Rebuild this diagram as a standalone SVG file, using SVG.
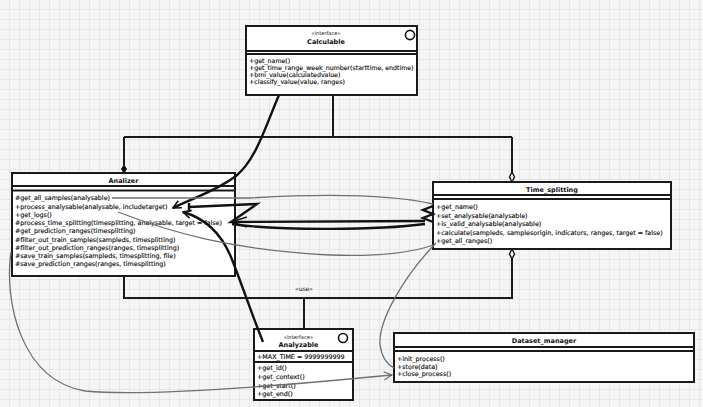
<svg xmlns="http://www.w3.org/2000/svg" width="703" height="407" viewBox="0 0 703 407">
<defs>
<pattern id="grid" width="10" height="10" patternUnits="userSpaceOnUse">
<rect width="10" height="10" fill="#f5f5f5"/>
<path d="M10 0 V10 M0 10 H10" stroke="#dcdcdc" stroke-width="1" fill="none"/>
</pattern>
<marker id="openArrow" markerWidth="10" markerHeight="10" refX="9" refY="5" orient="auto" markerUnits="userSpaceOnUse">
<path d="M1 1 L9 5 L1 9" fill="none" stroke="#111" stroke-width="1.6"/>
</marker>
<marker id="grayArrow" markerWidth="10" markerHeight="10" refX="9" refY="5" orient="auto" markerUnits="userSpaceOnUse">
<path d="M1 1 L9 5 L1 9" fill="none" stroke="#666" stroke-width="1.1"/>
</marker>
</defs>
<style>
.box{fill:#fff;stroke:#1a1a1a;stroke-width:2}
.sep{stroke:#1a1a1a;stroke-width:1.8}
.t{font-family:"DejaVu Sans","Liberation Sans",sans-serif;font-size:6.35px;fill:#111;stroke:#111;stroke-width:0.15}
.title{font-family:"DejaVu Sans","Liberation Sans",sans-serif;font-size:6.5px;font-weight:bold;fill:#111;text-anchor:middle}
.st{font-family:"DejaVu Sans","Liberation Sans",sans-serif;font-size:5.2px;fill:#111;text-anchor:middle}
.ln{fill:none;stroke:#1a1a1a;stroke-width:2}
.thick{fill:none;stroke:#111;stroke-width:2.4}
.gray{fill:none;stroke:#707070;stroke-width:1.3}
</style>
<rect width="703" height="407" fill="url(#grid)"/>

<g id="Calculable">
<rect class="box" x="246" y="26" width="171" height="69"/>
<line class="sep" x1="246" y1="51" x2="417" y2="51"/>
<line class="sep" x1="246" y1="54" x2="417" y2="54"/>
<circle cx="410" cy="35" r="4.6" fill="#fff" stroke="#111" stroke-width="1.6"/>
<text class="st" x="326" y="35">«interface»</text>
<text class="title" x="326" y="43.5">Calculable</text>
<text class="t" x="249" y="63.2" style="font-size:6.25px">+get_name()</text>
<text class="t" x="249" y="70" style="font-size:6.25px">+get_time_range_week_number(starttime, endtime)</text>
<text class="t" x="249" y="76.8" style="font-size:6.25px">+bmi_value(calculatedvalue)</text>
<text class="t" x="249" y="83.6" style="font-size:6.25px">+classify_value(value, ranges)</text>
</g>

<g id="Analizer">
<rect class="box" x="12" y="173" width="223" height="103"/>
<line class="sep" x1="12" y1="186" x2="235" y2="186"/>
<line class="sep" x1="12" y1="190.5" x2="235" y2="190.5"/>
<text class="title" x="123.5" y="182.5">Analizer</text>
<text class="t" x="15" y="200.4">#get_all_samples(analysable)</text>
<text class="t" x="15" y="208.65">+process_analysable(analysable, includetarget)</text>
<text class="t" x="15" y="216.9">+get_logs()</text>
<text class="t" x="15" y="225.15">#process_time_splitting(timesplitting, analysable, target = false)</text>
<text class="t" x="15" y="233.4">#get_prediction_ranges(timesplitting)</text>
<text class="t" x="15" y="241.65">#filter_out_train_samples(sampleds, timesplitting)</text>
<text class="t" x="15" y="249.9">#filter_out_prediction_ranges(ranges, timesplitting)</text>
<text class="t" x="15" y="258.15">#save_train_samples(sampleds, timesplitting, file)</text>
<text class="t" x="15" y="266.4">#save_prediction_ranges(ranges, timesplitting)</text>
</g>

<g id="Time_splitting">
<rect class="box" x="433" y="182" width="238" height="67"/>
<line class="sep" x1="433" y1="195" x2="671" y2="195"/>
<line class="sep" x1="433" y1="199" x2="671" y2="199"/>
<text class="title" x="552" y="192">Time_splitting</text>
<text class="t" x="436" y="209.4">+get_name()</text>
<text class="t" x="436" y="217.9">+set_analysable(analysable)</text>
<text class="t" x="436" y="226.4">+is_valid_analysable(analysable)</text>
<text class="t" x="436" y="234.9">+calculate(sampleds, samplesorigin, indicators, ranges, target = false)</text>
<text class="t" x="436" y="243.4">+get_all_ranges()</text>
</g>

<g id="Analyzable">
<rect class="box" x="254" y="329" width="99" height="71"/>
<line class="sep" x1="254" y1="351" x2="353" y2="351"/>
<line class="sep" x1="254" y1="362" x2="353" y2="362"/>
<circle cx="343" cy="338" r="4.5" fill="#fff" stroke="#111" stroke-width="1.6"/>
<text class="st" x="298.5" y="338.5">«interface»</text>
<text class="title" x="298.5" y="347">Analyzable</text>
<text class="t" x="257" y="359.4">+MAX_TIME = 9999999999</text>
<text class="t" x="257" y="370.4">+get_id()</text>
<text class="t" x="257" y="379.1">+get_context()</text>
<text class="t" x="257" y="387.8">+get_start()</text>
<text class="t" x="257" y="396.4">+get_end()</text>
</g>

<g id="Dataset_manager">
<rect class="box" x="394" y="333" width="300" height="49"/>
<line class="sep" x1="394" y1="347" x2="694" y2="347"/>
<line class="sep" x1="394" y1="351" x2="694" y2="351"/>
<text class="title" x="544" y="343">Dataset_manager</text>
<text class="t" x="397" y="361.4">+init_process()</text>
<text class="t" x="397" y="368.9">+store(data)</text>
<text class="t" x="397" y="376.4">+close_process()</text>
</g>

<g id="connectors">
<path class="ln" d="M333 95 V137 M124 137 H512 M124 137 V165 M512 137 V172"/>
<path d="M124 165 L121.5 169 L124 173 L126.5 169 Z" fill="#111" stroke="#111" stroke-width="1"/>
<path d="M512 172 L509.5 177 L512 182 L514.5 177 Z" fill="#fff" stroke="#111" stroke-width="1.4"/>
<path class="ln" d="M124 276 V298 H512 V259 M304 298 V329"/>
<path d="M512 249 L509.5 254 L512 259 L514.5 254 Z" fill="#fff" stroke="#111" stroke-width="1.4"/>
<text class="st" x="304" y="291" style="font-size:6px">«use»</text>
<path class="thick" d="M279 95 C266 125 256 160 236 176 C215 192 192 198 173 208" marker-end="url(#openArrow)"/>
<path class="thick" d="M263 342 C251 312 241 282 231 257 C221 233 204 218 183 212" marker-end="url(#openArrow)"/>
<path class="thick" d="M425 221 L231 222 L257 204 L189 207 M189 203 V212"/>
<path class="thick" d="M232 224 C280 231 380 230 425 224"/>
<path class="thick" d="M433 206 L423 210 L433 214 L423 218 L433 222"/>
<path d="M231 222 L247 217 M231 222 L247 222 M231 222 L247 227" fill="none" stroke="#111" stroke-width="1.6"/>
<path class="gray" d="M112 198 L250 198 C300 195 380 192 433 204"/>
<path class="gray" d="M118 212 C170 232 230 250 330 255 C380 257 415 252 433 245"/>
<path class="gray" d="M436 243 C405 275 378 320 380 345 C382 358 388 365 394 368"/>
<path class="gray" d="M11 252 C4 300 20 380 85 391 C150 397 300 384 392 375" marker-end="url(#grayArrow)"/>
</g>
</svg>
